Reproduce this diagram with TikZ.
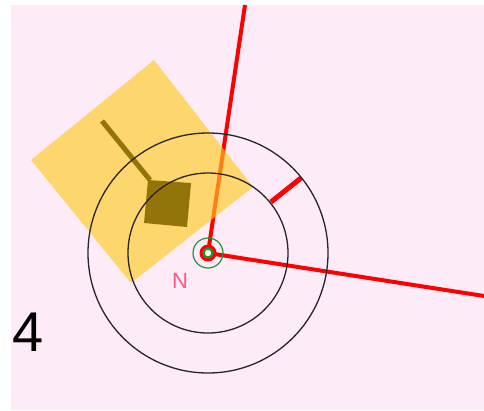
\documentclass[tikz,border=0pt]{standalone}
\usepackage{fontspec}
\setmainfont{Liberation Sans}
\definecolor{pagepink}{HTML}{FEEBF8}
\definecolor{platecolor}{RGB}{255,202,30}
\definecolor{darkplate}{HTML}{937408}
\definecolor{ringgreen}{HTML}{1E9632}
\definecolor{northpink}{HTML}{FF5A82}
\begin{document}
\begin{tikzpicture}[x=1pt, y=-1pt, line join=round,
		bigring/.style={draw=black!85, line width=1.3pt},
		redline/.style={draw=red, line width=4pt}]
	\def\xmax{484} \def\ymax{410}
	\useasboundingbox (0,0) rectangle (\xmax,\ymax);
	\fill[pagepink] (11,5) rectangle (\xmax,\ymax);
	\coordinate (hub) at (208,253);
	\coordinate (up) at (245,5);
	\coordinate (right) at (484,296);
	\coordinate (tickA) at (271,202);
	\coordinate (tickB) at (301,178);
	\draw[redline] (hub)--(up);
	\draw[redline] (hub)--(right);
	\draw[draw=red, line width=5pt] (tickA)--(tickB);
	% shaded plate
	\fill[platecolor, opacity=.63] (154,60)--(31,160)--(131,283)--(253,187)--cycle;
	\fill[darkplate] (148,180)--(191,183)--(187,227)--(144,223)--cycle;
	\draw[darkplate, line width=5pt] (102,121)--(150,180);
	\draw[bigring] (hub) circle (80);
	\draw[bigring] (hub) circle (120);
	% hub rings
	\draw[ringgreen, line width=1.2pt] (hub) circle (15);
	\fill[red] (hub) circle (8.5);
	\draw[ringgreen, line width=2.2pt, fill=white] (hub) circle (4.5);
	\node[text=northpink, font=\fontsize{22}{22}\selectfont] (north) at (180,281) {N};
	\node[text=black, font=\fontsize{56}{56}\selectfont] (four) at (28,332) {4};
\end{tikzpicture}
\end{document}
